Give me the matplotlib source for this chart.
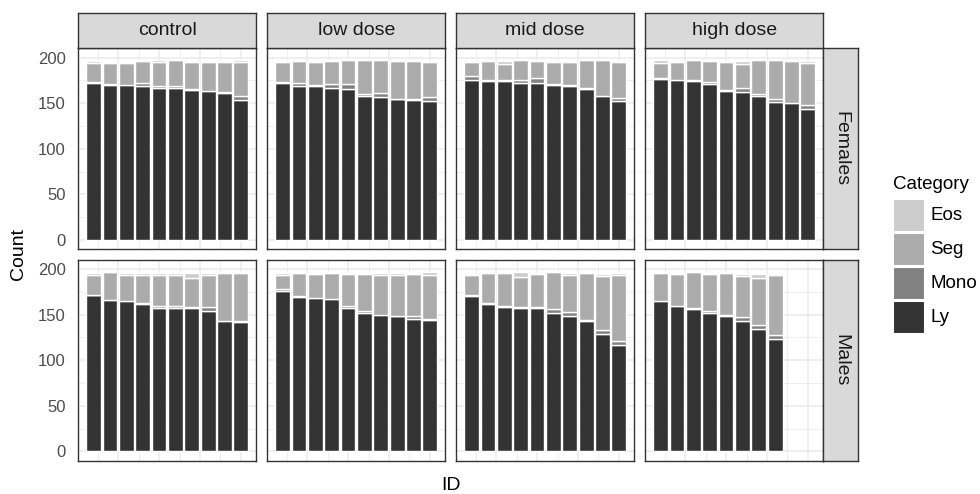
import matplotlib
matplotlib.use("Agg")
import matplotlib.pyplot as plt
from matplotlib.patches import Rectangle
import numpy as np

plt.rcParams['font.family'] = ['Liberation Sans', 'DejaVu Sans']

W, H = 980, 494

groups = ["control", "low dose", "mid dose", "high dose"]
sexes = ["Females", "Males"]
categories = ["Eos", "Seg", "Mono", "Ly"]
colors = {"Ly": "#333333", "Mono": "#818181", "Seg": "#ABABAB", "Eos": "#CCCCCC"}

# counts per animal, one list per dose group (control, low, mid, high)
ly_f = [
    [172, 170, 170, 169, 167, 167, 164, 163, 161, 153],
    [172, 169, 169, 167, 165, 158, 157, 154, 153, 152],
    [175, 174, 174, 172, 172, 170, 169, 166, 158, 152],
    [177, 175, 174, 171, 163, 162, 158, 151, 150, 144],
]
mono_f = [
    [1, 1, 0, 3, 2, 2, 1, 0, 1, 5],
    [1, 3, 1, 4, 6, 2, 4, 1, 1, 5],
    [5, 1, 1, 3, 6, 1, 1, 1, 0, 4],
    [1, 0, 1, 2, 1, 5, 2, 3, 0, 4],
]
seg_f = [
    [21, 23, 24, 24, 26, 28, 30, 32, 33, 37],
    [22, 24, 25, 25, 26, 37, 36, 41, 42, 38],
    [15, 21, 18, 22, 18, 24, 25, 30, 39, 39],
    [16, 20, 22, 23, 31, 26, 37, 43, 46, 46],
]
eos_f = [
    [2, 1, 1, 1, 2, 1, 1, 1, 1, 2],
    [1, 1, 1, 1, 1, 1, 1, 1, 1, 1],
    [1, 1, 3, 1, 1, 1, 1, 1, 1, 1],
    [3, 1, 1, 1, 1, 3, 1, 1, 1, 2],
]

ly_m = [
    [171, 166, 165, 162, 157, 157, 157, 154, 143, 142],
    [176, 169, 168, 167, 157, 152, 150, 148, 145, 144],
    [170, 162, 158, 157, 157, 152, 148, 143, 129, 117],
    [165, 159, 156, 152, 148, 143, 134, 123],
]
mono_m = [
    [1, 0, 0, 1, 3, 2, 1, 4, 0, 1],
    [2, 1, 0, 0, 3, 2, 0, 1, 3, 1],
    [2, 1, 1, 1, 1, 4, 5, 1, 4, 4],
    [0, 0, 1, 2, 2, 4, 5, 5],
]
seg_m = [
    [21, 31, 29, 30, 33, 34, 32, 35, 53, 53],
    [15, 26, 27, 29, 35, 41, 43, 44, 47, 48],
    [21, 33, 37, 33, 37, 41, 40, 52, 59, 73],
    [31, 36, 40, 41, 46, 45, 51, 65],
]
eos_m = [
    [3, 1, 2, 3, 3, 3, 6, 3, 1, 1],
    [3, 1, 1, 1, 1, 1, 3, 3, 1, 4],
    [2, 1, 1, 6, 1, 1, 3, 1, 3, 2],
    [1, 1, 1, 1, 1, 3, 5, 2],
]

data = {
    "Females": {"Ly": ly_f, "Mono": mono_f, "Seg": seg_f, "Eos": eos_f},
    "Males": {"Ly": ly_m, "Mono": mono_m, "Seg": seg_m, "Eos": eos_m},
}


def px_axes(fig, x0, y0, x1, y1):
    return fig.add_axes([x0 / W, 1 - y1 / H, (x1 - x0) / W, (y1 - y0) / H])


fig = plt.figure(figsize=(W / 100, H / 100), dpi=100)

col_x = [(78.3, 256.3), (267.3, 445.3), (456.3, 634.3), (645.3, 823.3)]
row_y = [(48.5, 249.0), (260.0, 460.5)]
border = "#333333"

for r, sex in enumerate(sexes):
    for c, grp in enumerate(groups):
        x0, x1 = col_x[c]
        y0, y1 = row_y[r]
        ax = px_axes(fig, x0, y0, x1, y1)
        ly = np.array(data[sex]["Ly"][c], dtype=float)
        x = np.arange(1, len(ly) + 1)
        bottom = np.zeros(len(ly))
        # stack from the bottom: Ly, Mono, Seg, Eos
        for cat in ["Ly", "Mono", "Seg", "Eos"]:
            vals = np.array(data[sex][cat][c], dtype=float)
            m = vals > 0
            ax.bar(x[m], vals[m], bottom=bottom[m], width=0.9,
                   color=colors[cat], edgecolor="white", linewidth=1.0)
            bottom += vals

        ax.set_xlim(0.055, 10.945)
        ax.set_ylim(-9.9, 209.9)
        ax.set_xticks([2.5, 5, 7.5, 10])
        ax.set_xticks([1.25, 3.75, 6.25, 8.75], minor=True)
        ax.set_yticks([0, 50, 100, 150, 200])
        ax.set_yticks([25, 75, 125, 175], minor=True)
        ax.grid(which="major", color="#EBEBEB", linewidth=1.1)
        ax.grid(which="minor", color="#EBEBEB", linewidth=0.6)
        ax.set_axisbelow(True)
        ax.tick_params(which="both", length=0, labelbottom=False,
                       labelleft=(c == 0), labelsize=12,
                       labelcolor="#4D4D4D", pad=9)
        for s in ax.spines.values():
            s.set_color(border)
            s.set_linewidth(1.0)

        # top strips
        if r == 0:
            st = px_axes(fig, x0, 12.7, x1, 48.5)
            st.set_facecolor("#D9D9D9")
            st.set_xticks([])
            st.set_yticks([])
            for s in st.spines.values():
                s.set_color(border)
                s.set_linewidth(1.0)
            st.text(0.5, 0.5, grp, ha="center", va="center",
                    fontsize=14, color="#1A1A1A", transform=st.transAxes)

    # right strips
    y0, y1 = row_y[r]
    st = px_axes(fig, 823.3, y0, 858.3, y1)
    st.set_facecolor("#D9D9D9")
    st.set_xticks([])
    st.set_yticks([])
    for s in st.spines.values():
        s.set_color(border)
        s.set_linewidth(1.0)
    st.text(0.5, 0.5, sex, ha="center", va="center", rotation=-90,
            fontsize=14, color="#1A1A1A", transform=st.transAxes)

# axis titles
fig.text(18 / W, 1 - 254.5 / H, "Count", rotation=90, ha="center",
         va="center", fontsize=14, color="black")
fig.text(450.8 / W, 1 - 485 / H, "ID", ha="center", va="center",
         fontsize=14, color="black")

# legend
lg = fig.add_axes([0, 0, 1, 1])
lg.set_xlim(0, W)
lg.set_ylim(H, 0)
lg.axis("off")
lg.patch.set_alpha(0)
lg.text(892.5, 184, "Category", ha="left", va="center", fontsize=13.5,
        color="black")
for i, cat in enumerate(categories):
    ky = 198.5 + i * 34
    lg.add_patch(Rectangle((892.5, ky), 32, 33, facecolor=colors[cat],
                           edgecolor="white", linewidth=1.5))
    lg.text(930.5, ky + 16.5, cat, ha="left", va="center", fontsize=13.5,
            color="black")

fig.savefig("out.png", dpi=100)
